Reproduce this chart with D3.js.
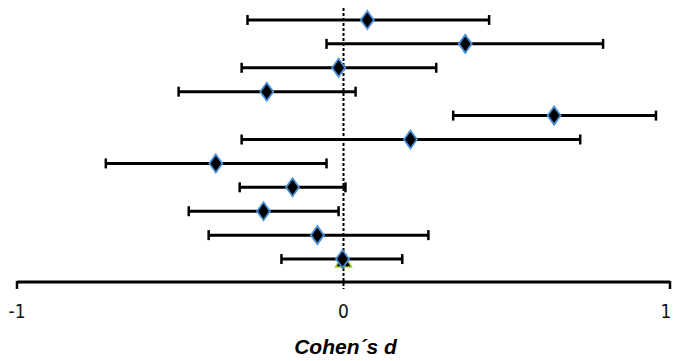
<!DOCTYPE html>
<html>
<head>
<meta charset="utf-8">
<script src="https://cdn.jsdelivr.net/npm/d3@7"></script>
<style>
  body { margin: 0; background: #fff; }
  svg { display: block; }
  .tick-label { font-family: "DejaVu Sans Condensed", "Liberation Sans", sans-serif; font-stretch: condensed; font-size: 19px; fill: #111; }
  .title { font-family: "Liberation Sans", Arial, sans-serif; font-size: 21px; font-weight: bold; font-style: italic; }
</style>
</head>
<body>
<svg id="chart"></svg>
<script>
// studies, top to bottom
const studies = ['s1', 's2', 's3', 's4', 's5', 's6', 's7', 's8', 's9', 's10', 's11'];
const effect = [0.073, 0.373, -0.015, -0.235, 0.645, 0.205, -0.391, -0.156, -0.245, -0.080, -0.003];
const lower  = [-0.294, -0.052, -0.312, -0.505, 0.336, -0.312, -0.728, -0.318, -0.474, -0.413, -0.190];
const upper  = [0.446, 0.795, 0.284, 0.037, 0.957, 0.725, -0.052, 0.006, -0.015, 0.260, 0.180];
// overall (triangle marker)
const overall = [0];
const tickValues = [-1, 0, 1];
const tickLabels = ['-1', '0', '1'];

const W = 673, H = 361;
const svg = d3.select('#chart').attr('width', W).attr('height', H);

const x = d3.scaleLinear().domain([-1, 1]).range([17, 670]);
const y = d3.scaleBand().domain(studies).range([8, 271]).padding(0);

const rows = studies.map((s, i) => ({ s: s, d: effect[i], lo: lower[i], hi: upper[i] }));

// zero reference line (dotted)
svg.append('line')
  .attr('x1', x(0)).attr('x2', x(0))
  .attr('y1', 8).attr('y2', 289)
  .attr('stroke', '#000').attr('stroke-width', 2)
  .attr('stroke-dasharray', '3,2');

// x axis
const axisY = 282;
const axis = svg.append('g');
axis.append('line')
  .attr('x1', x(-1)).attr('x2', x(1))
  .attr('y1', axisY).attr('y2', axisY)
  .attr('stroke', '#000').attr('stroke-width', 3);
axis.selectAll('.endtick')
  .data([-1, 1])
  .enter().append('line')
  .attr('x1', d => x(d)).attr('x2', d => x(d))
  .attr('y1', axisY - 1).attr('y2', axisY + 7)
  .attr('stroke', '#000').attr('stroke-width', 2.5);
axis.selectAll('.tick-label')
  .data(tickValues)
  .enter().append('text')
  .attr('class', 'tick-label')
  .attr('x', d => Math.min(x(d), W - 7))
  .attr('y', 318)
  .attr('text-anchor', 'middle')
  .text((d, i) => tickLabels[i]);

svg.append('text')
  .attr('class', 'title')
  .attr('x', x(0) + 2)
  .attr('y', 354)
  .attr('text-anchor', 'middle')
  .text('Cohen´s d');

const cy = d => y(d.s) + y.bandwidth() / 2;

// error bars
const g = svg.append('g');
g.selectAll('.ci')
  .data(rows)
  .enter().append('line')
  .attr('x1', d => x(d.lo)).attr('x2', d => x(d.hi))
  .attr('y1', cy).attr('y2', cy)
  .attr('stroke', '#000').attr('stroke-width', 3);

g.selectAll('.cap-lo')
  .data(rows)
  .enter().append('line')
  .attr('x1', d => x(d.lo)).attr('x2', d => x(d.lo))
  .attr('y1', d => cy(d) - 5).attr('y2', d => cy(d) + 5)
  .attr('stroke', '#000').attr('stroke-width', 2.5);

g.selectAll('.cap-hi')
  .data(rows)
  .enter().append('line')
  .attr('x1', d => x(d.hi)).attr('x2', d => x(d.hi))
  .attr('y1', d => cy(d) - 5).attr('y2', d => cy(d) + 5)
  .attr('stroke', '#000').attr('stroke-width', 2.5);

// overall triangle
const last = rows[rows.length - 1];
g.selectAll('.overall')
  .data(overall)
  .enter().append('path')
  .attr('d', 'M0,-8L8,6L-8,6Z')
  .attr('transform', d => 'translate(' + x(d) + ',' + (cy(last) + 2) + ')')
  .attr('fill', '#000')
  .attr('stroke', '#9acd32').attr('stroke-width', 1.5);

// diamonds
g.selectAll('.pt')
  .data(rows)
  .enter().append('path')
  .attr('d', 'M0,-9L6.5,0L0,9L-6.5,0Z')
  .attr('transform', d => 'translate(' + x(d.d) + ',' + cy(d) + ')')
  .attr('fill', '#000')
  .attr('stroke', '#4a8fd8').attr('stroke-width', 1.8);
</script>
</body>
</html>
